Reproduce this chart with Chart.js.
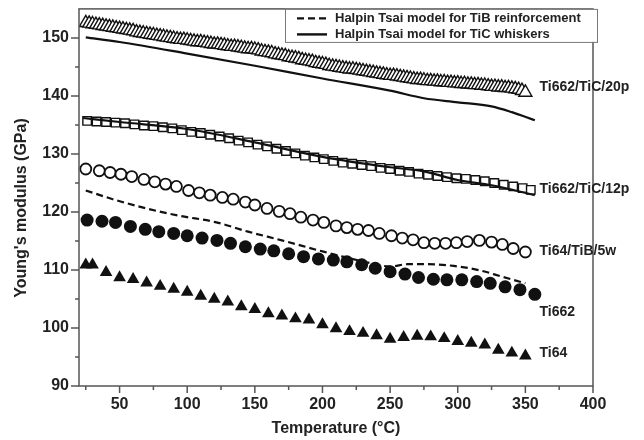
<!DOCTYPE html>
<html>
<head>
<meta charset="utf-8">
<script src="https://cdn.jsdelivr.net/npm/chart.js"></script>
<style>
  html, body { margin: 0; padding: 0; background: #fff; }
</style>
</head>
<body>
<canvas id="modulus" width="644" height="440"></canvas>
<script>
const FONT = "'Liberation Sans', Arial, sans-serif";

// Ti64 (filled triangles)
const tempTi64 = [25, 30, 40, 50, 60, 70, 80, 90, 100, 110, 120, 130, 140, 150, 160, 170, 180,
  190, 200, 210, 220, 230, 240, 250, 260, 270, 280, 290, 300, 310, 320, 330, 340, 350];
const ti64 = [110.9, 110.9, 109.6, 108.7, 108.4, 107.8, 107.2, 106.7, 106.2, 105.5, 105.0, 104.5,
  103.7, 103.2, 102.5, 102.1, 101.6, 101.4, 100.6, 99.9, 99.4, 99.1, 98.7, 98.1, 98.4, 98.6, 98.5,
  98.2, 97.7, 97.4, 97.1, 96.2, 95.7, 95.2];

// Ti662 (filled circles)
const tempTi662 = [26, 37, 47, 58, 69, 79, 90, 100, 111, 122, 132, 143, 154, 164, 175, 186, 197,
  208, 218, 229, 239, 250, 261, 271, 282, 292, 303, 314, 324, 335, 346, 357];
const ti662 = [118.6, 118.4, 118.2, 117.5, 117.0, 116.6, 116.3, 115.9, 115.5, 115.1, 114.6, 114.0,
  113.6, 113.3, 112.8, 112.3, 111.9, 111.7, 111.4, 110.9, 110.3, 109.7, 109.3, 108.7, 108.4, 108.3,
  108.3, 108.0, 107.7, 107.1, 106.6, 105.8];

// Ti64/TiB/5w (open circles)
const tempTiB5w = [25, 35, 43, 51, 59, 68, 76, 84, 92, 101, 109, 117, 126, 134, 143, 150, 159, 168,
  176, 184, 193, 201, 210, 218, 226, 234, 242, 251, 259, 267, 275, 283, 291, 299, 307, 316, 325,
  333, 341, 350];
const tiB5w = [127.4, 127.1, 126.8, 126.5, 126.1, 125.6, 125.2, 124.8, 124.4, 123.7, 123.3, 122.9,
  122.5, 122.2, 121.7, 121.2, 120.6, 120.1, 119.7, 119.1, 118.6, 118.2, 117.6, 117.3, 117.0, 116.8,
  116.3, 115.9, 115.5, 115.2, 114.7, 114.6, 114.6, 114.7, 114.9, 115.1, 114.8, 114.4, 113.7, 113.1];

// Ti662/TiC/12p (open squares)
const tempTiC12p = [26, 33, 40, 47, 54, 61, 68, 75, 82, 89, 96, 103, 110, 117, 124, 131, 138, 145,
  152, 159, 166, 173, 180, 187, 194, 201, 208, 215, 222, 229, 236, 243, 250, 257, 264, 271, 278,
  285, 292, 299, 306, 313, 320, 327, 334, 341, 348, 354];
const tiC12p = [135.7, 135.6, 135.5, 135.4, 135.3, 135.1, 134.9, 134.8, 134.6, 134.4, 134.1, 133.8,
  133.6, 133.3, 133.0, 132.7, 132.3, 132.0, 131.6, 131.3, 130.9, 130.5, 130.1, 129.7, 129.4, 129.1,
  128.8, 128.5, 128.3, 128.1, 127.9, 127.6, 127.4, 127.1, 126.9, 126.6, 126.4, 126.2, 126.0, 125.8,
  125.7, 125.5, 125.3, 125.0, 124.7, 124.4, 124.1, 123.8];

// Ti662/TiC/20p (densely packed open triangles)
const tempTiC20p = [25, 27.5, 30, 32.5, 35, 37.5, 40, 42.5, 45, 47.5, 50, 52.5, 55, 57.5, 60, 62.5,
  65, 67.5, 70, 72.5, 75, 77.5, 80, 82.5, 85, 87.5, 90, 92.5, 95, 97.5, 100, 102.5, 105, 107.5, 110,
  112.5, 115, 117.5, 120, 122.5, 125, 127.5, 130, 132.5, 135, 137.5, 140, 142.5, 145, 147.5, 150,
  152.5, 155, 157.5, 160, 162.5, 165, 167.5, 170, 172.5, 175, 177.5, 180, 182.5, 185, 187.5, 190,
  192.5, 195, 197.5, 200, 202.5, 205, 207.5, 210, 212.5, 215, 217.5, 220, 222.5, 225, 227.5, 230,
  232.5, 235, 237.5, 240, 242.5, 245, 247.5, 250, 252.5, 255, 257.5, 260, 262.5, 265, 267.5, 270,
  272.5, 275, 277.5, 280, 282.5, 285, 287.5, 290, 292.5, 295, 297.5, 300, 302.5, 305, 307.5, 310,
  312.5, 315, 317.5, 320, 322.5, 325, 327.5, 330, 332.5, 335, 337.5, 340, 342.5, 345, 347.5, 350];
const tiC20p = [152.6, 152.5, 152.4, 152.3, 152.2, 152.1, 152.0, 151.9, 151.8, 151.7, 151.6, 151.5,
  151.4, 151.3, 151.2, 151.0, 150.9, 150.8, 150.7, 150.6, 150.5, 150.4, 150.3, 150.2, 150.1, 150.0,
  149.9, 149.8, 149.7, 149.7, 149.6, 149.5, 149.4, 149.3, 149.3, 149.2, 149.1, 149.0, 148.9, 148.9,
  148.8, 148.7, 148.6, 148.5, 148.5, 148.4, 148.3, 148.2, 148.1, 148.1, 148.0, 147.9, 147.7, 147.6,
  147.5, 147.4, 147.2, 147.1, 147.0, 146.9, 146.7, 146.6, 146.5, 146.4, 146.2, 146.1, 146.0, 145.9,
  145.7, 145.6, 145.5, 145.4, 145.2, 145.1, 145.0, 144.9, 144.8, 144.7, 144.6, 144.6, 144.5, 144.4,
  144.3, 144.2, 144.1, 144.0, 143.9, 143.8, 143.7, 143.6, 143.5, 143.5, 143.4, 143.3, 143.2, 143.1,
  143.0, 142.9, 142.8, 142.8, 142.7, 142.6, 142.6, 142.5, 142.5, 142.4, 142.4, 142.3, 142.3, 142.2,
  142.2, 142.1, 142.1, 142.0, 142.0, 141.9, 141.9, 141.8, 141.8, 141.7, 141.6, 141.6, 141.5, 141.5,
  141.4, 141.4, 141.3, 141.2, 141.1, 140.9, 140.6];

// Halpin Tsai model, TiB reinforcement (dashed)
const tempModelTiB = [25, 45, 70, 95, 120, 145, 170, 200, 215, 235, 250, 263, 278, 297, 317, 332, 350];
const modelTiB = [123.7, 122.2, 120.6, 119.3, 118.3, 116.6, 115.1, 113.2, 112.3, 111.2, 110.6,
  111.0, 111.0, 110.7, 109.9, 108.9, 107.7];

// Halpin Tsai model, TiC whiskers (solid), for 20p and 12p
const tempModelTiC20 = [25, 50, 100, 150, 200, 250, 275, 300, 325, 340, 357];
const modelTiC20 = [150.1, 149.3, 147.3, 145.2, 143.0, 140.9, 139.6, 138.9, 138.2, 137.2, 135.8];
const tempModelTiC12 = [23, 50, 100, 150, 200, 250, 275, 300, 325, 357];
const modelTiC12 = [136.2, 135.5, 134.3, 132.0, 129.5, 127.7, 127.0, 125.5, 124.6, 122.9];

// axis ticks
const xTicks = [50, 100, 150, 200, 250, 300, 350, 400];
const xMinor = [25, 75, 125, 175, 225, 275, 325, 375];
const yTicks = [90, 100, 110, 120, 130, 140, 150];
const yMinor = [95, 105, 115, 125, 135, 145];

const pts = (xs, ys) => xs.map((x, i) => ({ x, y: ys[i] }));

// text next to the end of each series (data coordinates)
const endLabels = [
  { text: "Ti662/TiC/20p", x: 360.5, y: 141.5 },
  { text: "Ti662/TiC/12p", x: 360.5, y: 124.0 },
  { text: "Ti64/TiB/5w", x: 360.5, y: 113.3 },
  { text: "Ti662", x: 360.5, y: 102.8 },
  { text: "Ti64", x: 360.5, y: 95.6 }
];

const lineSet = (data, dash) => ({
  data,
  borderColor: "#111",
  borderWidth: 2.2,
  borderDash: dash,
  pointRadius: 0,
  showLine: true,
  fill: false,
  cubicInterpolationMode: "monotone"
});

const markerSet = (data, style, radius, fillColor, borderW) => ({
  data,
  showLine: false,
  pointStyle: style,
  pointRadius: radius,
  pointBackgroundColor: fillColor,
  pointBorderColor: "#111",
  pointBorderWidth: borderW
});

const framePlugin = {
  id: "frame",
  afterDraw(chart) {
    const { ctx, chartArea: a, scales: { x, y } } = chart;
    ctx.save();

    // box around the plot
    ctx.strokeStyle = "#555";
    ctx.lineWidth = 1.5;
    ctx.strokeRect(a.left, a.top, a.right - a.left, a.bottom - a.top);

    // major and minor tick marks, pointing out
    ctx.beginPath();
    xTicks.forEach(v => { const p = x.getPixelForValue(v); ctx.moveTo(p, a.bottom); ctx.lineTo(p, a.bottom + 7); });
    xMinor.forEach(v => { const p = x.getPixelForValue(v); ctx.moveTo(p, a.bottom); ctx.lineTo(p, a.bottom + 4); });
    yTicks.forEach(v => { const p = y.getPixelForValue(v); ctx.moveTo(a.left, p); ctx.lineTo(a.left - 8, p); });
    yMinor.forEach(v => { const p = y.getPixelForValue(v); ctx.moveTo(a.left, p); ctx.lineTo(a.left - 4, p); });
    ctx.stroke();

    // y axis title
    ctx.fillStyle = "#222";
    ctx.font = "bold 16px " + FONT;
    ctx.textAlign = "center";
    ctx.textBaseline = "middle";
    ctx.translate(22, 208);
    ctx.rotate(-Math.PI / 2);
    ctx.fillText("Young's modulus (GPa)", 0, 0);
    ctx.setTransform(1, 0, 0, 1, 0, 0);

    // series labels
    ctx.textAlign = "left";
    ctx.font = "bold 14px " + FONT;
    endLabels.forEach(l => {
      ctx.fillText(l.text, x.getPixelForValue(l.x), y.getPixelForValue(l.y));
    });

    // legend
    const lx = 285, ly = a.top, lw = a.right + 4 - lx, lh = 33;
    ctx.fillStyle = "#fff";
    ctx.fillRect(lx, ly, lw, lh);
    ctx.strokeStyle = "#777";
    ctx.lineWidth = 1;
    ctx.strokeRect(lx + 0.5, ly + 0.5, lw, lh);
    ctx.strokeStyle = "#111";
    ctx.lineWidth = 2.4;
    ctx.setLineDash([7, 4]);
    ctx.beginPath(); ctx.moveTo(297, ly + 9.5); ctx.lineTo(326, ly + 9.5); ctx.stroke();
    ctx.setLineDash([]);
    ctx.beginPath(); ctx.moveTo(297, ly + 25.5); ctx.lineTo(327, ly + 25.5); ctx.stroke();
    ctx.fillStyle = "#222";
    ctx.font = "bold 13px " + FONT;
    ctx.fillText("Halpin Tsai model for TiB reinforcement", 335, ly + 9.5);
    ctx.fillText("Halpin Tsai model for TiC whiskers", 335, ly + 25.5);

    ctx.restore();
  }
};

new Chart(document.getElementById("modulus"), {
  type: "line",
  data: {
    datasets: [
      lineSet(pts(tempModelTiB, modelTiB), [7, 4]),
      lineSet(pts(tempModelTiC20, modelTiC20), []),
      lineSet(pts(tempModelTiC12, modelTiC12), []),
      markerSet(pts(tempTiC20p, tiC20p), "triangle", 7.5, "#fff", 1.4),
      markerSet(pts(tempTiC12p, tiC12p), "rect", 6, "#fff", 1.4),
      markerSet(pts(tempTiB5w, tiB5w), "circle", 5.5, "#fff", 1.8),
      markerSet(pts(tempTi662, ti662), "circle", 6.5, "#111", 0),
      markerSet(pts(tempTi64, ti64), "triangle", 7.3, "#111", 0)
    ]
  },
  options: {
    responsive: false,
    animation: false,
    devicePixelRatio: 1,
    layout: { padding: { left: 0, right: 51, top: 8, bottom: 0 } },
    plugins: {
      legend: { display: false },
      tooltip: { enabled: false }
    },
    scales: {
      x: {
        type: "linear",
        min: 20,
        max: 400,
        afterBuildTicks: s => { s.ticks = xTicks.map(v => ({ value: v })); },
        afterFit: s => { s.height = 54; s.paddingLeft = 0; s.paddingRight = 0; },
        grid: { display: false, drawTicks: false },
        border: { display: false },
        ticks: {
          padding: 9,
          color: "#222",
          maxRotation: 0,
          autoSkip: false,
          font: { family: FONT, size: 16, weight: "bold" }
        },
        title: {
          display: true,
          text: "Temperature (°C)",
          color: "#222",
          font: { family: FONT, size: 16, weight: "bold" },
          padding: { top: 0, bottom: 2 }
        }
      },
      y: {
        type: "linear",
        min: 90,
        max: 155,
        afterBuildTicks: s => { s.ticks = yTicks.map(v => ({ value: v })); },
        afterFit: s => { s.width = 79; s.paddingTop = 0; s.paddingBottom = 0; },
        grid: { display: false, drawTicks: false },
        border: { display: false },
        ticks: {
          padding: 10,
          color: "#222",
          font: { family: FONT, size: 16, weight: "bold" }
        }
      }
    }
  },
  plugins: [framePlugin]
});
</script>
</body>
</html>
